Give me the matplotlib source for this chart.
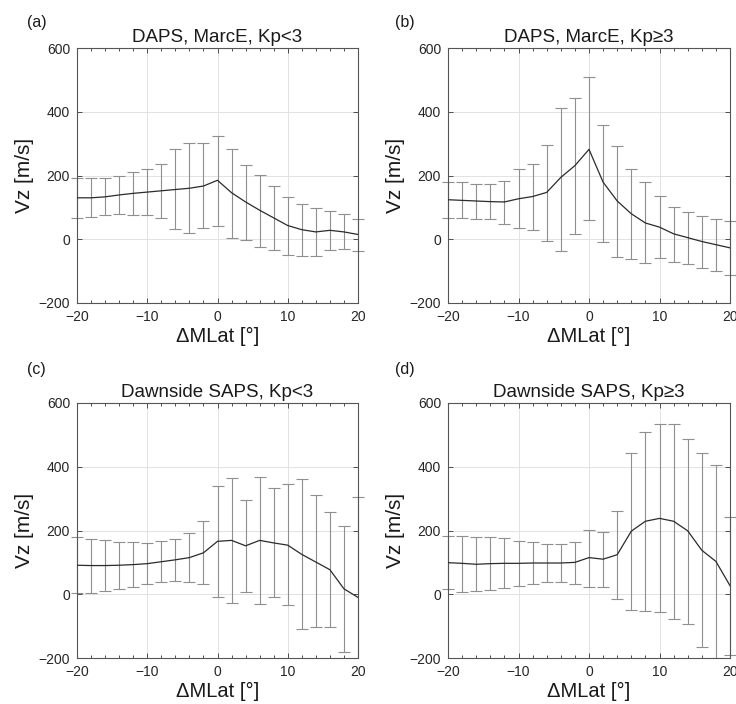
import numpy as np
import matplotlib
matplotlib.use('Agg')
import matplotlib.pyplot as plt
from matplotlib.ticker import MultipleLocator
from matplotlib.patches import Rectangle

plt.rcParams['font.family'] = ['Liberation Sans', 'DejaVu Sans']

# delta MLat positions
lat = [-20, -18, -16, -14, -12, -10, -8, -6, -4, -2, 0, 2, 4, 6, 8, 10, 12, 14, 16, 18, 20]

# (a) DAPS, MarcE, Kp<3
a_mean = [130, 130, 133, 139, 144, 148, 152, 156, 160, 167, 185, 146, 117, 91, 67, 43, 30, 23, 28, 23, 15]
a_lo = [68, 70, 75, 80, 77, 75, 66, 31, 19, 34, 43, 5, -3, -24, -34, -48, -51, -52, -35, -32, -38]
a_hi = [192, 191, 191, 197, 210, 219, 235, 282, 301, 301, 323, 282, 233, 202, 166, 133, 112, 98, 89, 78, 64]

# (b) DAPS, MarcE, Kp>=3
b_mean = [124, 122, 120, 118, 117, 127, 134, 147, 194, 231, 282, 179, 120, 80, 51, 38, 17, 5, -7, -17, -27]
b_lo = [68, 66, 65, 65, 49, 36, 28, -5, -38, 15, 59, -9, -56, -61, -76, -59, -71, -78, -91, -99, -112]
b_hi = [180, 179, 174, 174, 183, 221, 236, 295, 413, 442, 508, 358, 293, 220, 180, 136, 102, 87, 74, 62, 57]

# (c) Dawnside SAPS, Kp<3
c_mean = [91, 90, 90, 91, 93, 96, 102, 108, 115, 130, 166, 169, 152, 169, 161, 154, 125, 101, 77, 17, -10]
c_lo = [3, 5, 11, 17, 23, 31, 37, 42, 37, 32, -10, -26, 7, -32, -10, -35, -108, -104, -104, -181, -324]
c_hi = [179, 172, 169, 165, 164, 161, 168, 174, 193, 230, 340, 365, 296, 368, 333, 346, 361, 310, 258, 215, 304]

# (d) Dawnside SAPS, Kp>=3
d_mean = [99, 97, 94, 96, 97, 97, 98, 98, 98, 100, 115, 110, 124, 198, 229, 238, 229, 199, 138, 103, 27]
d_lo = [15, 7, 9, 12, 19, 27, 33, 40, 40, 33, 24, 22, -16, -48, -53, -57, -77, -92, -164, -199, -190]
d_hi = [184, 183, 180, 179, 177, 168, 164, 157, 157, 165, 202, 196, 262, 443, 508, 533, 535, 486, 443, 404, 242]

titles = ['DAPS, MarcE, Kp<3', 'DAPS, MarcE, Kp≥3', 'Dawnside SAPS, Kp<3', 'Dawnside SAPS, Kp≥3']
letters = ['(a)', '(b)', '(c)', '(d)']
panels = [(a_mean, a_lo, a_hi), (b_mean, b_lo, b_hi), (c_mean, c_lo, c_hi), (d_mean, d_lo, d_hi)]

W, H = 736, 704
fig = plt.figure(figsize=(W / 100, H / 100), dpi=100)

# axes boxes in pixels: left, top, right, bottom
boxes = [(77, 48, 358, 303), (448, 48, 730, 303), (77, 403, 358, 658), (448, 403, 730, 658)]
label_pos = [(27, 22), (395, 22), (27, 370), (395, 370)]

for i in range(4):
    l, t, r, b = boxes[i]
    ax = fig.add_axes([l / W, 1 - b / H, (r - l) / W, (b - t) / H])
    mean, lo, hi = panels[i]
    mean = np.array(mean)
    yerr = [mean - np.array(lo), np.array(hi) - mean]
    eb = ax.errorbar(lat, mean, yerr=yerr, fmt='none', ecolor='#8f8f8f', elinewidth=0.8,
                     capsize=4, capthick=0.8, zorder=2)
    # caps may stick out sideways past the frame, as in the original
    clip = Rectangle((-0.03, 0), 1.06, 1, transform=ax.transAxes, facecolor='none', edgecolor='none')
    ax.add_patch(clip)
    for art in list(eb[1]) + list(eb[2]):
        art.set_clip_path(clip)
    ax.plot(lat, mean, color='#2b2b2b', lw=0.9, zorder=3)

    ax.set_xlim(-20, 20)
    ax.set_ylim(-200, 600)
    ax.set_xticks([-20, -10, 0, 10, 20])
    ax.set_yticks([-200, 0, 200, 400, 600])
    ax.xaxis.set_minor_locator(MultipleLocator(2))
    ax.grid(True, which='major', color='#e2e2e2', lw=0.7)
    ax.set_axisbelow(True)
    ax.tick_params(which='both', direction='in', top=True, right=True, labelsize=10,
                   colors='#4d4d4d', labelcolor='#262626', width=0.7)
    ax.tick_params(which='major', length=3.5, pad=5)
    ax.tick_params(which='minor', length=2.5)
    for s in ax.spines.values():
        s.set_color('#555555')
        s.set_linewidth(0.8)
    ax.set_title(titles[i], fontsize=13.5, pad=4, color='#1a1a1a')
    ax.set_xlabel('ΔMLat [°]', fontsize=14.5, labelpad=2, color='#1a1a1a')
    ax.set_ylabel('Vz [m/s]', fontsize=15, labelpad=3, color='#1a1a1a')
    fig.text(label_pos[i][0] / W, 1 - label_pos[i][1] / H, letters[i], fontsize=11.5,
             ha='left', va='center', color='#1a1a1a')

fig.savefig('out.png', dpi=100)
